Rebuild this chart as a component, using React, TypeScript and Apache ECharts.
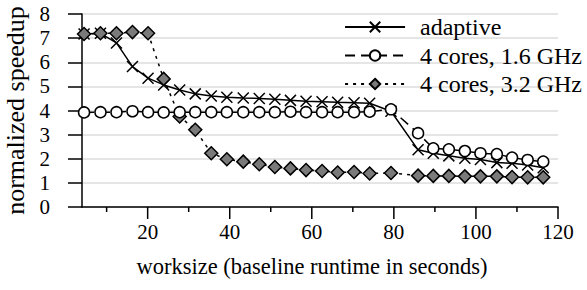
import React, { useEffect, useRef } from 'react';
import * as echarts from 'echarts';

const WORKSIZE = [4.5, 8.5, 12.4, 16.3, 20.1, 23.9, 27.8, 31.6, 35.5, 39.3, 43.3, 47.2, 51.0, 54.8, 58.6, 62.5, 66.3, 70.3, 74.1, 79.3, 85.9, 89.6, 93.4, 97.3, 101.1, 105.1, 108.8, 112.6, 116.4];
const ADAPTIVE = [7.17, 7.2, 6.8, 5.82, 5.34, 5.06, 4.85, 4.69, 4.6, 4.55, 4.52, 4.5, 4.47, 4.42, 4.38, 4.36, 4.34, 4.32, 4.3, 3.97, 2.37, 2.23, 2.12, 2.02, 1.97, 1.84, 1.81, 1.74, 1.63];
const CORES_16 = [3.92, 3.93, 3.93, 3.97, 3.93, 3.92, 3.93, 3.93, 3.93, 3.93, 3.93, 3.93, 3.93, 3.95, 3.93, 3.93, 3.93, 3.93, 3.95, 4.05, 3.06, 2.43, 2.39, 2.32, 2.23, 2.19, 2.05, 1.95, 1.88];
const CORES_32 = [7.17, 7.2, 7.2, 7.25, 7.2, 5.31, 3.75, 3.2, 2.23, 1.98, 1.88, 1.77, 1.66, 1.6, 1.53, 1.49, 1.43, 1.45, 1.39, 1.41, 1.3, 1.29, 1.29, 1.27, 1.27, 1.27, 1.24, 1.23, 1.23];
const SERIES_NAMES = ['adaptive', '4 cores, 1.6 GHz', '4 cores, 3.2 GHz'];
const X_TICKS = [10, 20, 30, 40, 50, 60, 70, 80, 90, 100, 110, 120];
const X_LABELED = [20, 40, 60, 80, 100, 120];

const FONT = 'Liberation Serif, Times New Roman, Times, DejaVu Serif, serif';
const CROSS = 'path://M0,0L10,10M10,0L0,10';

const pairs = (ys: number[]) => WORKSIZE.map((x, i) => [x, ys[i]]);

export default function App() {
  const ref = useRef<HTMLDivElement>(null);
  useEffect(() => {
    if (!ref.current) return;
    const chart = echarts.init(ref.current, null, { renderer: 'svg' });
    chart.setOption({
      animation: false,
      backgroundColor: '#fff',
      textStyle: { fontFamily: FONT, color: '#000' },
      grid: { left: 82, right: 29, top: 14, bottom: 83, containLabel: false, outerBoundsMode: 'none' },
      legend: {
        data: SERIES_NAMES,
        orient: 'vertical',
        right: 0,
        top: 10,
        align: 'left',
        itemWidth: 60,
        itemHeight: 13,
        itemGap: 4.5,
        textStyle: { fontFamily: FONT, fontSize: 24, color: '#000', padding: [0, 0, 0, 10] },
      },
      xAxis: {
        type: 'value',
        min: 4,
        max: 120,
        name: 'worksize (baseline runtime in seconds)',
        nameLocation: 'middle',
        nameGap: 48,
        nameTextStyle: { fontFamily: FONT, fontSize: 22.5, color: '#000', padding: [0, 16, 0, 0] },
        axisLine: { show: true, lineStyle: { color: '#000', width: 1.5 } },
        axisTick: { show: false },
        axisLabel: {
          fontFamily: FONT,
          fontSize: 21,
          color: '#000',
          margin: 14,
          showMinLabel: false,
          formatter: (v: number) => (X_LABELED.includes(v) ? String(v) : ''),
        },
        splitLine: { show: false },
      },
      yAxis: {
        type: 'value',
        min: 0,
        max: 8,
        interval: 1,
        name: 'normalized speedup',
        nameLocation: 'middle',
        nameGap: 54,
        nameTextStyle: { fontFamily: FONT, fontSize: 26, color: '#000' },
        axisLine: { show: true, lineStyle: { color: '#000', width: 1.5 } },
        axisTick: { show: true, inside: false, length: 14, lineStyle: { color: '#000', width: 1.5 } },
        axisLabel: { fontFamily: FONT, fontSize: 21, color: '#000', margin: 32 },
        splitLine: { show: true, lineStyle: { color: '#dcdcdc', width: 1.5 } },
      },
      series: [
        {
          type: 'custom',
          name: 'xticks',
          data: X_TICKS.map((v) => [v]),
          clip: false,
          silent: true,
          z: 5,
          renderItem: (params: any, api: any) => {
            const v = api.value(0);
            const p = api.coord([v, 0]);
            const len = v % 20 === 0 ? 12 : 5;
            return {
              type: 'line',
              shape: { x1: p[0], y1: p[1], x2: p[0], y2: p[1] + len },
              style: { stroke: '#000', lineWidth: 1.5 },
            };
          },
        },
        {
          type: 'line',
          name: SERIES_NAMES[2],
          data: pairs(CORES_32),
          symbol: 'diamond',
          symbolSize: 13,
          showAllSymbol: true,
          lineStyle: { color: '#000', width: 1.5, type: [3, 5] },
          itemStyle: { color: '#7a7a7a', borderColor: '#000', borderWidth: 1.5 },
          z: 3,
        },
        {
          type: 'line',
          name: SERIES_NAMES[1],
          data: pairs(CORES_16),
          symbol: 'circle',
          symbolSize: 11,
          showAllSymbol: true,
          lineStyle: { color: '#000', width: 1.5, type: [10, 6] },
          itemStyle: { color: '#fff', borderColor: '#000', borderWidth: 1.5 },
          z: 4,
        },
        {
          type: 'line',
          name: SERIES_NAMES[0],
          data: pairs(ADAPTIVE),
          symbol: CROSS,
          symbolSize: 11,
          showAllSymbol: true,
          lineStyle: { color: '#000', width: 1.5 },
          itemStyle: { color: '#000', borderColor: '#000', borderWidth: 1.5 },
          z: 2,
        },
      ],
    });
    return () => chart.dispose();
  }, []);
  return <div ref={ref} style={{ width: 587, height: 290, position: 'absolute', left: 0, top: 0 }} />;
}
